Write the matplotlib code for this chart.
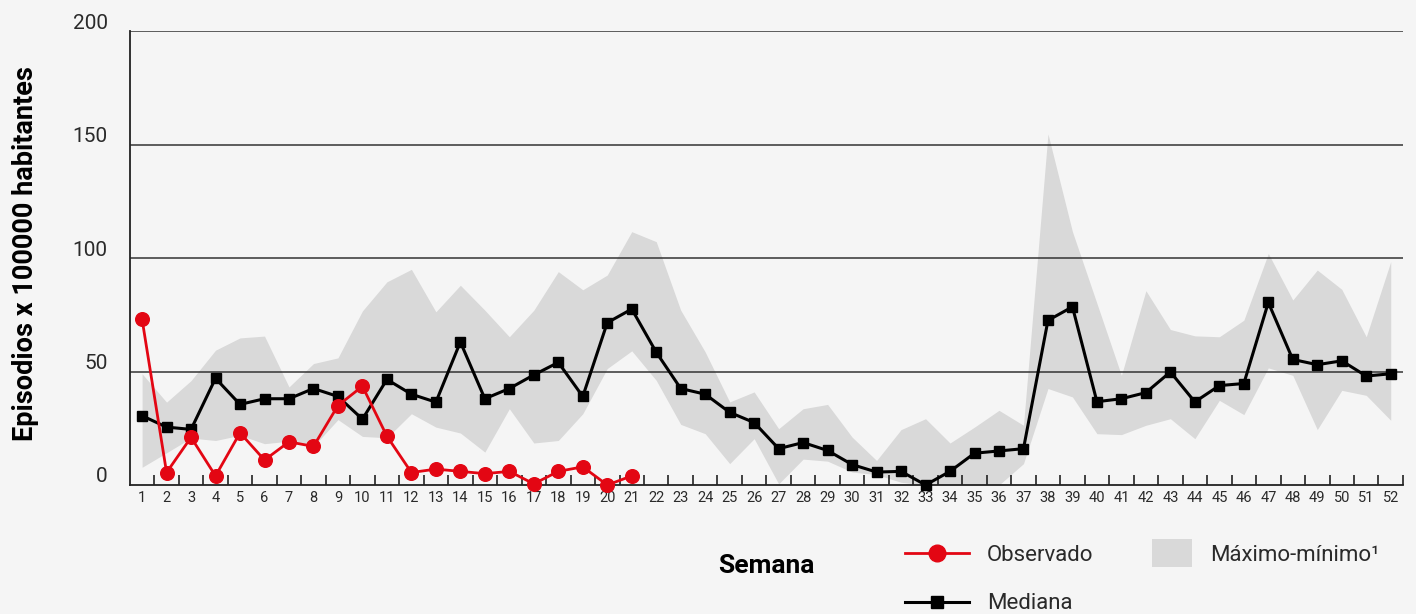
import numpy as np
import matplotlib
matplotlib.use('Agg')
import matplotlib.pyplot as plt
from matplotlib.lines import Line2D
from matplotlib.patches import Rectangle
from matplotlib.legend_handler import HandlerPatch
import matplotlib.transforms as mtransforms

# weekly rates (episodes x 100000 inhabitants)
semanas = np.arange(1, 53)

observado = [73, 5.5, 21, 4, 23, 11, 19, 17, 35, 43.5, 21.5, 5.5, 7, 6, 5, 6, 0.5,
             6, 8, 0, 4]

mediana = [30.5, 25.5, 24.5, 47, 35.5, 38, 38, 42.5, 39, 29, 46.5, 40, 36.5, 63,
           38, 42.5, 48.5, 54, 39, 71.5, 77.5, 58.5, 42.5, 40, 32, 27.5, 16, 18.7,
           15.2, 9, 5.7, 6, 0, 6, 14, 15, 16, 72.5, 78.5, 36.7, 38, 40.7, 49.8,
           36.6, 43.8, 44.7, 80.4, 55.3, 53, 54.7, 48, 49]

maximo = [49, 36.5, 46, 59.4, 64.8, 65.6, 43.2, 53.5, 56, 76.7, 89.5, 95, 76.3, 88,
          77, 65.3, 77, 94, 86, 92.5, 111.6, 107.2, 77, 58.6, 36.6, 41, 24.8, 33.6,
          35.5, 21.1, 10.8, 24.4, 29.2, 18.5, 25.5, 32.9, 26.3, 154.7, 111.6, 80,
          48.3, 85.6, 68.5, 65.7, 65.3, 72.6, 102, 81.5, 94.7, 86.2, 65.3, 98.4]

minimo = [7.8, 14.2, 20.7, 19.6, 21.9, 18.2, 19.3, 17, 28.8, 21.4, 20.8, 31.4, 25.5,
          22.9, 14.5, 33.6, 18.5, 19.6, 31.4, 51.3, 59.1, 46.1, 26.7, 22.6, 9.4, 20.4,
          0.5, 11.4, 10.5, 5.7, 4.6, 1.2, 0, 0, 0, 0, 9.4, 42.5, 38.8, 22.6, 22.2,
          26.3, 29.2, 20.4, 37.3, 31, 51.6, 48.3, 24.4, 41.7, 39.5, 28.5]

y_ticks = [0, 50, 100, 150, 200]

BG = '#f5f5f5'
RED = '#e30613'
BAND = '#d9d9d9'
TXT = '#2a2a2a'

plt.rcParams['font.family'] = ['Roboto', 'DejaVu Sans']

fig = plt.figure(figsize=(14.16, 6.14), dpi=100, facecolor=BG)
ax = fig.add_axes([0.0917, 0.2101, 0.9908 - 0.0917, 0.9495 - 0.2101])
ax.set_facecolor(BG)

ax.fill_between(semanas, minimo, maximo, color=BAND, lw=0, zorder=0.5)
for v in y_ticks[1:]:
    ax.axhline(v, color='#333333', lw=1.1, zorder=1)

ax.plot(semanas, mediana, color='black', lw=2.2, marker='s', ms=6.8, zorder=3,
        clip_on=False)
ax.plot(semanas[:len(observado)], observado, color=RED, lw=2.0, marker='o', ms=9.8,
        zorder=4, clip_on=False)

ax.set_xlim(0.5, 52.5)
ax.set_ylim(0, 200)

for s in ['top', 'right']:
    ax.spines[s].set_visible(False)
for s in ['left', 'bottom']:
    ax.spines[s].set_color('#222222')
    ax.spines[s].set_linewidth(1.3)

ax.set_xticks(semanas)
ax.set_xticks(np.arange(1.5, 53, 1), minor=True)
ax.tick_params(axis='x', which='major', length=0, pad=4, labelsize=10.5,
               labelcolor=TXT)
ax.tick_params(axis='x', which='minor', direction='in', length=7, width=1.2,
               color='#222222')

ax.set_yticks(y_ticks)
ax.tick_params(axis='y', length=0, pad=16, labelsize=15, labelcolor=TXT)
offset = mtransforms.ScaledTranslation(0, 0.10, fig.dpi_scale_trans)
for lbl in ax.get_yticklabels():
    lbl.set_transform(lbl.get_transform() + offset)

ax.set_ylabel('Episodios x 100000 habitantes', fontsize=19.5, fontweight='bold')
ax.yaxis.set_label_coords(-0.071, 0.509)
ax.set_xlabel('Semana', fontsize=19, fontweight='bold')
ax.xaxis.set_label_coords(0.5, -0.152)


def square_patch(legend, orig_handle, xdescent, ydescent, width, height, fontsize):
    w, h = 28.8, 20
    return Rectangle((-xdescent + width - w, -ydescent + (height - h) / 2), w, h)


handles = [
    Line2D([], [], color=RED, lw=2.0, marker='o', ms=12),
    Line2D([], [], color='black', lw=2.2, marker='s', ms=9),
    Rectangle((0, 0), 1, 1, color=BAND, lw=0),
]
labels = ['Observado', 'Mediana', 'Máximo-mínimo¹']
leg = fig.legend(handles, labels, loc='upper left', bbox_to_anchor=(0.639, 0.113),
                 ncol=2, frameon=False, fontsize=16, handlelength=2.9,
                 handletextpad=0.8, columnspacing=1.55, labelspacing=1.25,
                 borderpad=0, borderaxespad=0,
                 handler_map={Rectangle: HandlerPatch(patch_func=square_patch)})
for t in leg.get_texts():
    t.set_color(TXT)

fig.savefig('out.png', dpi=100, facecolor=BG)
